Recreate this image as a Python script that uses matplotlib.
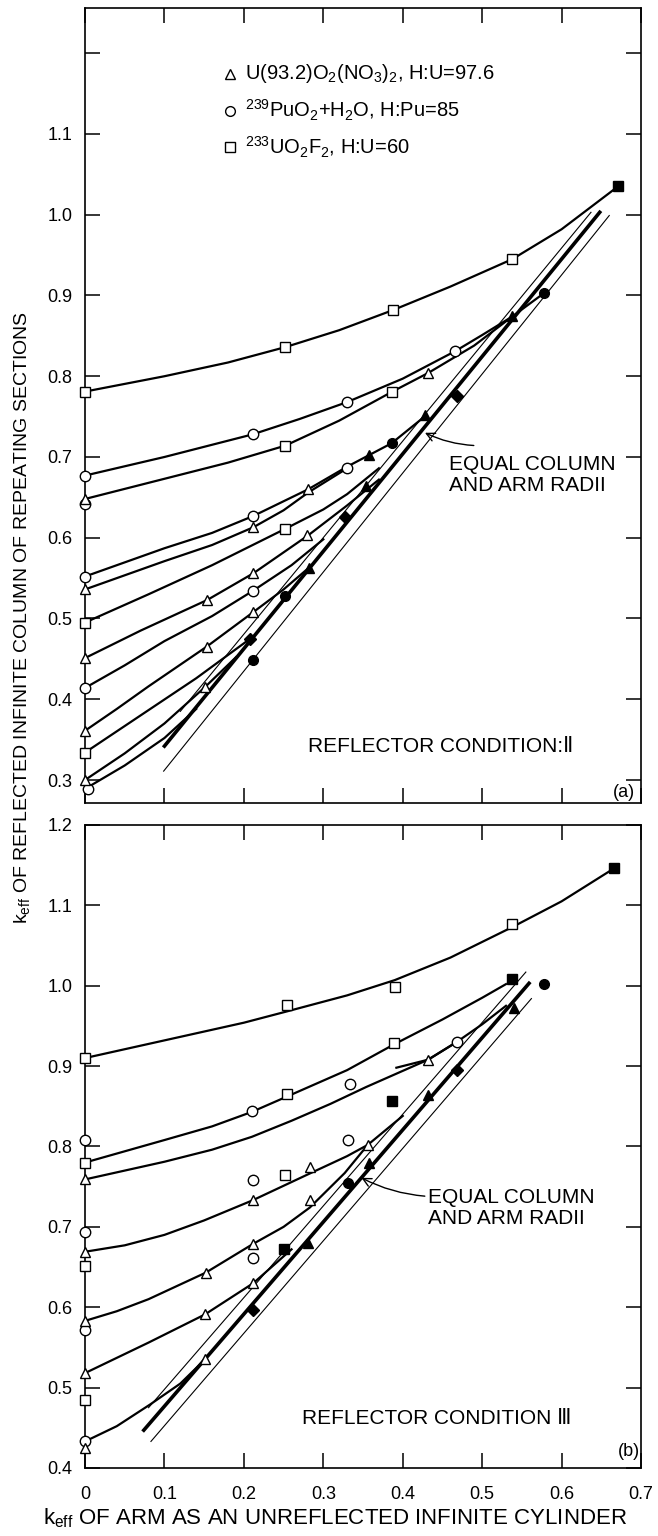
import matplotlib
matplotlib.use("Agg")
import matplotlib.pyplot as plt

plt.rcParams['font.family'] = ['Liberation Sans', 'DejaVu Sans']
plt.rcParams['mathtext.fontset'] = 'custom'
plt.rcParams['mathtext.rm'] = 'Liberation Sans'

# ---------------- panel (a): reflector condition II ----------------
# smooth curves through the open-symbol data
a_curves = [
    ([0, 0.1, 0.18, 0.252, 0.32, 0.388, 0.46, 0.538, 0.6, 0.671],
     [0.781, 0.800, 0.817, 0.836, 0.857, 0.882, 0.911, 0.945, 0.982, 1.035]),
    ([0, 0.1, 0.211, 0.27, 0.33, 0.40, 0.466, 0.50, 0.538, 0.578],
     [0.677, 0.700, 0.728, 0.747, 0.768, 0.797, 0.831, 0.851, 0.874, 0.903]),
    ([0, 0.1, 0.18, 0.252, 0.32, 0.387, 0.432, 0.49, 0.538],
     [0.648, 0.673, 0.693, 0.714, 0.745, 0.781, 0.804, 0.838, 0.874]),
    ([0, 0.1, 0.16, 0.212, 0.281, 0.33, 0.386, 0.43],
     [0.552, 0.587, 0.606, 0.627, 0.660, 0.688, 0.717, 0.752]),
    ([0, 0.1, 0.16, 0.212, 0.25, 0.281, 0.33],
     [0.536, 0.571, 0.591, 0.613, 0.634, 0.656, 0.686]),
    ([0, 0.08, 0.16, 0.252, 0.30, 0.33, 0.37],
     [0.495, 0.530, 0.566, 0.611, 0.635, 0.654, 0.686]),
    ([0, 0.07, 0.154, 0.212, 0.281, 0.33, 0.37],
     [0.451, 0.485, 0.523, 0.556, 0.603, 0.640, 0.672]),
    ([0, 0.05, 0.1, 0.16, 0.211, 0.26, 0.30],
     [0.414, 0.442, 0.472, 0.503, 0.534, 0.566, 0.598]),
    ([0, 0.04, 0.08, 0.153, 0.212, 0.25, 0.282],
     [0.361, 0.388, 0.416, 0.465, 0.508, 0.536, 0.563]),
    ([0, 0.07, 0.14, 0.208],
     [0.334, 0.380, 0.426, 0.475]),
    ([0, 0.05, 0.10, 0.151, 0.19],
     [0.300, 0.333, 0.370, 0.415, 0.452]),
    ([0, 0.05, 0.10, 0.14],
     [0.289, 0.318, 0.352, 0.388]),
]
# "equal column and arm radii" band: thin, thick, thin
a_band_thin = [([0.12, 0.637], [0.385, 1.003]), ([0.099, 0.660], [0.311, 0.999])]
a_band_thick = ([0.10, 0.648], [0.342, 1.003])

a_sq_x = [0, 0.252, 0.388, 0.538, 0.252, 0.387, 0, 0.252, 0]
a_sq_y = [0.781, 0.836, 0.882, 0.945, 0.714, 0.781, 0.495, 0.611, 0.334]
a_ci_x = [0, 0.211, 0.330, 0.466, 0, 0.330, 0.212, 0, 0.211, 0, 0.004]
a_ci_y = [0.677, 0.728, 0.768, 0.831, 0.642, 0.686, 0.627, 0.552, 0.534, 0.414, 0.289]
a_tr_x = [0, 0.432, 0.281, 0.212, 0, 0.154, 0.212, 0.280, 0.212, 0, 0.153, 0, 0.151, 0]
a_tr_y = [0.648, 0.804, 0.660, 0.613, 0.536, 0.523, 0.556, 0.603, 0.508, 0.451, 0.465,
          0.361, 0.415, 0.300]
a_ftr_x = [0.282, 0.354, 0.357, 0.428, 0.538]
a_ftr_y = [0.563, 0.664, 0.703, 0.752, 0.874]
a_fci_x = [0.211, 0.252, 0.386, 0.578]
a_fci_y = [0.449, 0.528, 0.717, 0.903]
a_fdi_x = [0.208, 0.327, 0.468]
a_fdi_y = [0.475, 0.626, 0.775]
a_fsq_x = [0.671]
a_fsq_y = [1.035]

# ---------------- panel (b): reflector condition III ----------------
b_curves = [
    ([0, 0.1, 0.2, 0.254, 0.33, 0.39, 0.46, 0.538, 0.6, 0.666],
     [0.910, 0.932, 0.954, 0.968, 0.988, 1.007, 1.035, 1.073, 1.105, 1.146]),
    ([0, 0.1, 0.16, 0.21, 0.254, 0.33, 0.389, 0.45, 0.50, 0.53],
     [0.780, 0.808, 0.825, 0.843, 0.862, 0.895, 0.927, 0.958, 0.985, 1.002]),
    ([0, 0.1, 0.16, 0.21, 0.26, 0.309, 0.354, 0.432, 0.468, 0.50, 0.53],
     [0.759, 0.781, 0.796, 0.812, 0.832, 0.853, 0.874, 0.908, 0.930, 0.952, 0.975]),
    ([0.392, 0.432, 0.468],
     [0.898, 0.908, 0.930]),
    ([0, 0.05, 0.1, 0.15, 0.211, 0.28, 0.33, 0.356, 0.40],
     [0.669, 0.677, 0.690, 0.708, 0.733, 0.765, 0.788, 0.802, 0.838]),
    ([0, 0.04, 0.08, 0.152, 0.212, 0.25, 0.283, 0.327, 0.356],
     [0.583, 0.595, 0.610, 0.643, 0.679, 0.700, 0.724, 0.767, 0.802]),
    ([0, 0.04, 0.08, 0.151, 0.212, 0.26],
     [0.518, 0.537, 0.556, 0.591, 0.630, 0.672]),
    ([0, 0.04, 0.082, 0.12, 0.151],
     [0.433, 0.452, 0.479, 0.505, 0.535]),
]
b_band_thin = [([0.08, 0.555], [0.475, 1.017]), ([0.083, 0.562], [0.433, 0.984])]
b_band_thick = ([0.074, 0.559], [0.447, 1.003])

b_sq_x = [0, 0.254, 0.390, 0.538, 0, 0.254, 0.389, 0.252, 0, 0]
b_sq_y = [0.910, 0.976, 0.999, 1.077, 0.780, 0.865, 0.929, 0.765, 0.651, 0.485]
b_ci_x = [0, 0.210, 0.333, 0.468, 0.331, 0.212, 0, 0.212, 0, 0]
b_ci_y = [0.808, 0.844, 0.878, 0.930, 0.808, 0.758, 0.693, 0.661, 0.572, 0.433]
b_tr_x = [0, 0.432, 0.356, 0.283, 0.211, 0.283, 0, 0.212, 0.152, 0.212, 0, 0.151, 0,
          0.151, 0]
b_tr_y = [0.759, 0.908, 0.802, 0.774, 0.733, 0.734, 0.669, 0.679, 0.643, 0.630, 0.583,
          0.591, 0.518, 0.535, 0.425]
b_ftr_x = [0.540, 0.432, 0.357, 0.281]
b_ftr_y = [0.972, 0.864, 0.779, 0.680]
b_fci_x = [0.578, 0.331]
b_fci_y = [1.002, 0.755]
b_fdi_x = [0.468, 0.212]
b_fdi_y = [0.895, 0.597]
b_fsq_x = [0.666, 0.538, 0.386, 0.250]
b_fsq_y = [1.146, 1.008, 0.857, 0.673]

x_ticks = [0, 0.1, 0.2, 0.3, 0.4, 0.5, 0.6, 0.7]
x_labels = ['0', '0.1', '0.2', '0.3', '0.4', '0.5', '0.6', '0.7']
a_yticks = [0.3, 0.4, 0.5, 0.6, 0.7, 0.8, 0.9, 1.0, 1.1, 1.2]
a_ylabels = ['0.3', '0.4', '0.5', '0.6', '0.7', '0.8', '0.9', '1.0', '1.1', '']
b_yticks = [0.4, 0.5, 0.6, 0.7, 0.8, 0.9, 1.0, 1.1, 1.2]
b_ylabels = ['0.4', '0.5', '0.6', '0.7', '0.8', '0.9', '1.0', '1.1', '1.2']

legend_labels = [r'U(93.2)O$_2$(NO$_3$)$_2$, H:U=97.6',
                 r'$^{239}$PuO$_2$+H$_2$O, H:Pu=85',
                 r'$^{233}$UO$_2$F$_2$, H:U=60']
legend_markers = ['^', 'o', 's']

fig = plt.figure(figsize=(6.58, 15.36), dpi=100)
ax_a = fig.add_axes([0.1292, 0.4772, 0.8450, 0.5176])
ax_b = fig.add_axes([0.1292, 0.0443, 0.8450, 0.4186])


def draw_panel(ax, curves, thin, thick, opens, filled):
    for xs, ys in curves:
        ax.plot(xs, ys, color='black', lw=1.6, zorder=2)
    for xs, ys in thin:
        ax.plot(xs, ys, color='black', lw=0.8, zorder=2)
    ax.plot(thick[0], thick[1], color='black', lw=2.6, zorder=2)
    for xs, ys, m in opens:
        ax.plot(xs, ys, ls='none', marker=m, ms=7.5, mfc='white', mec='black',
                mew=1.0, zorder=4, clip_on=False)
    for xs, ys, m, s in filled:
        ax.plot(xs, ys, ls='none', marker=m, ms=s, mfc='black', mec='black',
                zorder=5, clip_on=False)
    ax.set_xlim(0, 0.7)
    ax.set_xticks(x_ticks)
    ax.tick_params(direction='in', length=11, width=1.1, top=True, right=True,
                   labelsize=13, pad=9)
    for sp in ax.spines.values():
        sp.set_linewidth(1.2)


draw_panel(ax_a, a_curves, a_band_thin, a_band_thick,
           [(a_sq_x, a_sq_y, 's'), (a_ci_x, a_ci_y, 'o'), (a_tr_x, a_tr_y, '^')],
           [(a_ftr_x, a_ftr_y, '^', 7.5), (a_fci_x, a_fci_y, 'o', 7),
            (a_fdi_x, a_fdi_y, 'D', 6.5), (a_fsq_x, a_fsq_y, 's', 7)])
draw_panel(ax_b, b_curves, b_band_thin, b_band_thick,
           [(b_sq_x, b_sq_y, 's'), (b_ci_x, b_ci_y, 'o'), (b_tr_x, b_tr_y, '^')],
           [(b_ftr_x, b_ftr_y, '^', 7.5), (b_fci_x, b_fci_y, 'o', 7),
            (b_fdi_x, b_fdi_y, 'D', 6.5), (b_fsq_x, b_fsq_y, 's', 7)])

ax_a.set_ylim(0.2715, 1.256)
ax_a.set_yticks(a_yticks)
ax_a.set_yticklabels(a_ylabels)
ax_a.set_xticklabels([])
ax_b.set_ylim(0.4, 1.2)
ax_b.set_yticks(b_yticks)
ax_b.set_yticklabels(b_ylabels)
ax_b.set_xticklabels(x_labels)
ax_b.tick_params(axis='x', pad=13)

# legend typed into panel (a)
for i, (lab, m) in enumerate(zip(legend_labels, legend_markers)):
    yy = 1.1745 - 0.0455 * i
    ax_a.plot([0.183], [yy], ls='none', marker=m, ms=7, mfc='white', mec='black',
              mew=1.0)
    ax_a.text(0.202, yy, lab, fontsize=14.5, va='center', ha='left')

ax_a.text(0.281, 0.342, 'REFLECTOR CONDITION:Ⅱ', fontsize=15, va='center')
ax_b.text(0.273, 0.462, 'REFLECTOR CONDITION Ⅲ', fontsize=15, va='center')
ax_a.text(0.664, 0.285, '(a)', fontsize=13, va='center')
ax_b.text(0.671, 0.420, '(b)', fontsize=13, va='center')

ax_a.annotate('EQUAL COLUMN\nAND ARM RADII', xy=(0.428, 0.730), xytext=(0.458, 0.702),
              fontsize=15, va='top', ha='left', linespacing=1.1,
              arrowprops=dict(arrowstyle='->', lw=1.0, color='black',
                              shrinkA=0, shrinkB=0, relpos=(0.15, 1.25),
                              connectionstyle='arc3,rad=-0.1'))
ax_b.annotate('EQUAL COLUMN\nAND ARM RADII', xy=(0.348, 0.761), xytext=(0.432, 0.748),
              fontsize=15, va='top', ha='left', linespacing=1.1,
              arrowprops=dict(arrowstyle='->', lw=1.0, color='black',
                              shrinkA=0, shrinkB=0, relpos=(-0.02, 0.8),
                              connectionstyle='arc3,rad=-0.1'))

fig.text(0.034, 0.598, r'k$_{\mathregular{eff}}$ OF REFLECTED INFINITE COLUMN OF REPEATING SECTIONS',
         rotation=90, fontsize=14, ha='center', va='center')
fig.text(0.509, 0.004, r'k$_{\mathregular{eff}}$ OF ARM AS AN UNREFLECTED INFINITE CYLINDER',
         fontsize=16, ha='center', va='bottom')

fig.savefig('out.png', dpi=100)
